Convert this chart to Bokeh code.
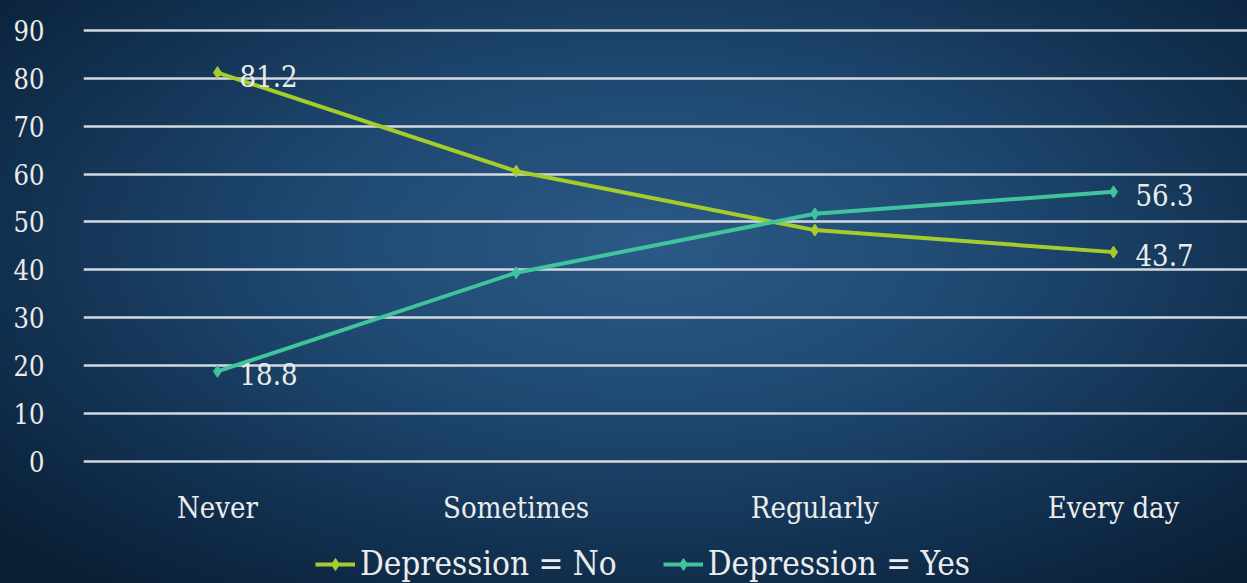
from bokeh.plotting import figure
from bokeh.models import Range1d, FactorRange, Legend, LegendItem, ColumnDataSource, FixedTicker
from bokeh.core.properties import value
from bokeh.embed import file_html
from bokeh.resources import INLINE

categories = ["Never", "Sometimes", "Regularly", "Every day"]
dep_no = [81.2, 60.6, 48.3, 43.7]
dep_yes = [18.8, 39.4, 51.7, 56.3]
y_ticks = [0, 10, 20, 30, 40, 50, 60, 70, 80, 90]
labeled_idx = [0, 3]

FONT = "DejaVu Serif Condensed, DejaVu Serif"
NO_COLOR = "#a6cc2c"
YES_COLOR = "#3fc49c"
TEXT_COLOR = "#ececec"

p = figure(width=1247, height=583,
           x_range=FactorRange(*categories, range_padding=-0.0514, range_padding_units="absolute"),
           y_range=Range1d(-25.5, 90.4),
           output_backend="svg", toolbar_location=None,
           min_border_left=83, min_border_right=0, min_border_top=28, min_border_bottom=0)

p.styles = {"background-image": "radial-gradient(ellipse 70% 75% at 52% 42%, #2b5a86 0%, #1e4870 40%, #112f4e 75%, #0a1f35 100%)"}
p.border_fill_color = None
p.background_fill_color = None
p.outline_line_color = None

p.xgrid.grid_line_color = None
p.ygrid.ticker = FixedTicker(ticks=y_ticks)
p.ygrid.grid_line_color = "#d3d9e0"
p.ygrid.grid_line_width = 2.5

p.yaxis.ticker = FixedTicker(ticks=y_ticks)
for ax in (p.xaxis[0], p.yaxis[0]):
    ax.axis_line_color = None
    ax.major_tick_line_color = None
    ax.minor_tick_line_color = None
    ax.major_label_text_font = FONT
    ax.major_label_text_color = TEXT_COLOR
p.yaxis.major_label_text_font_size = "27px"
p.yaxis.major_label_standoff = 33
p.xaxis.major_label_text_font_size = "29px"
p.xaxis.major_label_standoff = 24
p.xaxis.fixed_location = 0

l_no = p.line(categories, dep_no, line_color=NO_COLOR, line_width=4)
s_no = p.scatter(categories, dep_no, marker="diamond", size=12, fill_color=NO_COLOR, line_color=NO_COLOR)
l_yes = p.line(categories, dep_yes, line_color=YES_COLOR, line_width=4)
s_yes = p.scatter(categories, dep_yes, marker="diamond", size=12, fill_color=YES_COLOR, line_color=YES_COLOR)

lab = ColumnDataSource(dict(
    x=[categories[i] for i in labeled_idx] * 2,
    y=[dep_no[i] for i in labeled_idx] + [dep_yes[i] for i in labeled_idx],
    t=[f"{dep_no[i]}" for i in labeled_idx] + [f"{dep_yes[i]}" for i in labeled_idx],
))
p.text(x="x", y="y", text="t", source=lab, x_offset=22, y_offset=3,
       text_font=value(FONT), text_font_size="29px", text_color=TEXT_COLOR,
       text_baseline="middle", text_align="left")

legend = Legend(items=[LegendItem(label="Depression = No", renderers=[l_no, s_no]),
                       LegendItem(label="Depression = Yes", renderers=[l_yes, s_yes])],
                orientation="horizontal", location=(232, 0),
                glyph_width=40, glyph_height=30, label_standoff=5, spacing=46,
                padding=0, margin=0, border_line_color=None, background_fill_alpha=0,
                label_text_font=FONT, label_text_font_size="33px", label_text_color=TEXT_COLOR)
p.add_layout(legend, "center")

open("out.html", "w").write(file_html(p, INLINE))
